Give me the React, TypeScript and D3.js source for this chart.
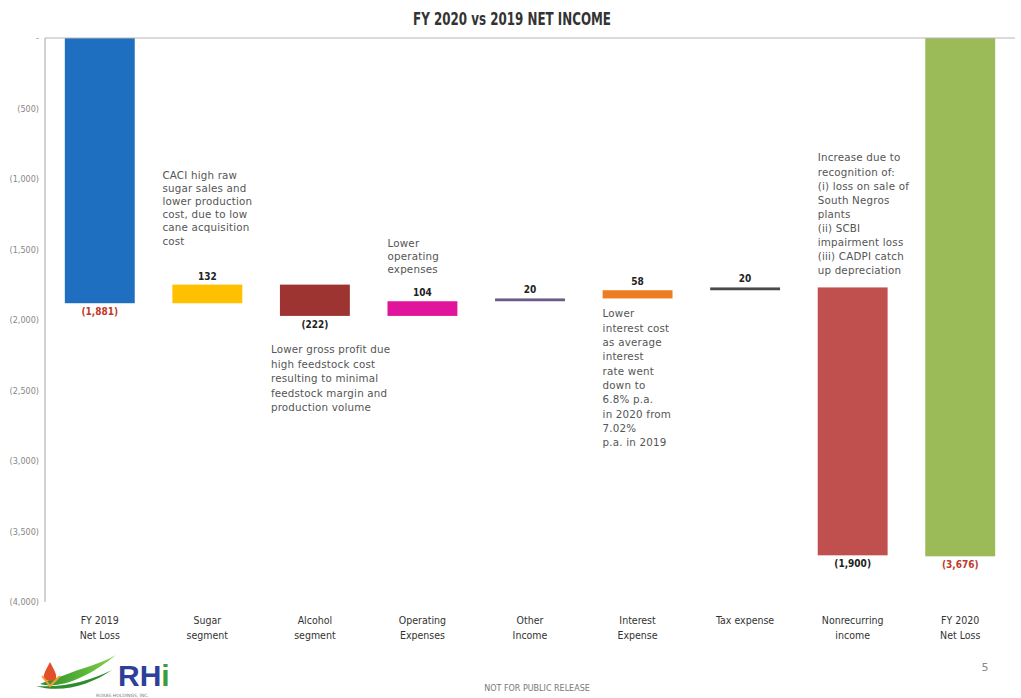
import React from "react";
import * as d3 from "d3";

// Net income bridge, FY 2019 -> FY 2020 (PHP millions)
const categories = [
  "FY 2019 Net Loss",
  "Sugar segment",
  "Alcohol segment",
  "Operating Expenses",
  "Other Income",
  "Interest Expense",
  "Tax expense",
  "Nonrecurring income",
  "FY 2020 Net Loss",
];
const categoryLines = [
  ["FY 2019", "Net Loss"],
  ["Sugar", "segment"],
  ["Alcohol", "segment"],
  ["Operating", "Expenses"],
  ["Other", "Income"],
  ["Interest", "Expense"],
  ["Tax expense"],
  ["Nonrecurring", "income"],
  ["FY 2020", "Net Loss"],
];
const changes = [-1881, 132, -222, 104, 20, 58, 20, -1900, -3676];
const isTotal = [true, false, false, false, false, false, false, false, true];
const valueLabels = ["(1,881)", "132", "(222)", "104", "20", "58", "20", "(1,900)", "(3,676)"];
const barColors = ["#1f6fc1", "#ffc000", "#9e3431", "#e0159b", "#6e5a88", "#ee7d22", "#4a4a4a", "#c0504d", "#9bbb59"];
const labelColors = ["#c0392b", "#222", "#222", "#222", "#222", "#222", "#222", "#222", "#c0392b"];

const yTicks = [0, -500, -1000, -1500, -2000, -2500, -3000, -3500, -4000];
const yTickLabels = ["-", "(500)", "(1,000)", "(1,500)", "(2,000)", "(2,500)", "(3,000)", "(3,500)", "(4,000)"];

// Commentary attached to bars: anchor to the bar top or bottom
const notes = [
  { index: 1, edge: "top", dx: -10, dy: -106, lh: 13.2, lines: ["CACI high raw", "sugar sales and", "lower production", "cost, due to low", "cane acquisition", "cost"] },
  { index: 2, edge: "bottom", dx: -9, dy: 37, lh: 14.6, lines: ["Lower gross profit due", "high feedstock cost", "resulting to minimal", "feedstock margin and", "production volume"] },
  { index: 3, edge: "top", dx: 0, dy: -54, lh: 13, lines: ["Lower", "operating", "expenses"] },
  { index: 5, edge: "bottom", dx: 0, dy: 19, lh: 14.3, lines: ["Lower", "interest cost", "as average", "interest", "rate went", "down to", "6.8% p.a.", "in 2020 from", "7.02%", "p.a. in 2019"] },
  { index: 7, edge: "top", dx: 0, dy: -126, lh: 14.1, lines: ["Increase due to", "recognition of:", "(i) loss on sale of", "South Negros", "plants", "(ii) SCBI", "impairment loss", "(iii) CADPI catch", "up depreciation"] },
];

const W = 1021;
const H = 698;
const condensed = "'Liberation Sans Narrow', 'DejaVu Sans Condensed', 'Arial Narrow', sans-serif";
const body = "'DejaVu Sans', Lato, sans-serif";

export default function App() {
  const x = d3.scaleBand<string>().domain(categories).range([46, 1014]).paddingInner(0.35).paddingOuter(0.175);
  const y = d3.scaleLinear().domain([0, -4000]).range([38, 602]);

  // running totals for the floating bars
  let running = 0;
  const bars = changes.map((c, i) => {
    let start: number, end: number;
    if (isTotal[i]) {
      start = 0;
      end = c;
      running = c;
    } else {
      start = running;
      end = running + c;
      running = end;
    }
    const top = y(Math.max(start, end));
    const bottom = y(Math.min(start, end));
    return { i, start, end, top, bottom, x0: x(categories[i]) as number };
  });
  const bw = x.bandwidth();

  return (
    <svg width={W} height={H} style={{ position: "absolute", left: 0, top: 0, background: "#fff" }}>
      {/* title */}
      <text x={413} y={25} textLength={198} lengthAdjust="spacingAndGlyphs" fontFamily={condensed} fontWeight="bold" fontSize={17} fill="#333">
        FY 2020 vs 2019 NET INCOME
      </text>

      {/* bars */}
      {bars.map((b) => (
        <rect key={b.i} x={b.x0} y={b.top} width={bw} height={Math.max(2, b.bottom - b.top)} fill={barColors[b.i]} />
      ))}

      {/* axes */}
      <line x1={45} x2={1015} y1={y(0)} y2={y(0)} stroke="#b5b5b5" strokeWidth={1.2} />
      <line x1={45} x2={45} y1={y(0)} y2={y(-4000)} stroke="#b5b5b5" strokeWidth={1.2} />
      {yTicks.map((t, i) => (
        <text key={t} x={39} y={y(t) + 3} textAnchor="end" fontFamily={condensed} fontSize={9} fill="#888">
          {yTickLabels[i]}
        </text>
      ))}

      {/* value labels */}
      {bars.map((b) => {
        const below = b.end < b.start || isTotal[b.i];
        const ly = below ? b.bottom + 12 : b.top - 5;
        return (
          <text key={"v" + b.i} x={b.x0 + bw / 2} y={ly} textAnchor="middle" fontFamily={condensed} fontWeight="bold" fontSize={10} fill={labelColors[b.i]}>
            {valueLabels[b.i]}
          </text>
        );
      })}

      {/* commentary */}
      {notes.map((n) => {
        const b = bars[n.index];
        const baseY = (n.edge === "top" ? b.top : b.bottom) + n.dy;
        return (
          <text key={"n" + n.index} fontFamily={body} fontSize={10.3} letterSpacing={0.2} fill="#555">
            {n.lines.map((l, k) => (
              <tspan key={k} x={b.x0 + n.dx} y={baseY + k * n.lh}>
                {l}
              </tspan>
            ))}
          </text>
        );
      })}

      {/* category labels */}
      {categoryLines.map((lines, i) => (
        <text key={"c" + i} textAnchor="middle" fontFamily={condensed} fontSize={10.5} fill="#333">
          {lines.map((l, k) => (
            <tspan key={k} x={(x(categories[i]) as number) + bw / 2} y={624 + k * 15}>
              {l}
            </tspan>
          ))}
        </text>
      ))}

      {/* footer */}
      <g>
        <defs>
          <linearGradient id="leaf" x1="0" x2="1" y1="0" y2="0">
            <stop offset="0" stopColor="#2e8b2e" />
            <stop offset="0.6" stopColor="#5cb83a" />
            <stop offset="1" stopColor="#8fd14f" />
          </linearGradient>
        </defs>
        <path d="M40,684 C60,690 90,676 116,655 C100,664 82,668 62,676 C54,679 46,681 40,684 Z" fill="url(#leaf)" />
        <path d="M36,686 C62,694 92,684 112,670 C92,680 66,688 36,686 Z" fill="#2e8b2e" />
        <path d="M50,662 C46,670 43,674 44,678 C45,682 55,682 56,678 C57,674 54,670 50,662 Z" fill="#e2502a" />
        <path d="M42,676 L50,686 L60,676" fill="none" stroke="#f0a030" strokeWidth={2} />
        <text x={118} y={686} fontFamily="'Liberation Sans', Arial, sans-serif" fontWeight="bold" fontSize={30} fill="#2e3f99">
          RH
          <tspan fill="#3a9d3a">i</tspan>
        </text>
        <text x={96} y={697} fontFamily={body} fontSize={4.5} fill="#777">
          ROXAS HOLDINGS, INC.
        </text>
        <text x={537} y={691} textAnchor="middle" fontFamily={body} fontSize={8} fill="#777">
          NOT FOR PUBLIC RELEASE
        </text>
        <text x={985} y={671} textAnchor="middle" fontFamily={body} fontSize={11} fill="#888">
          5
        </text>
      </g>
    </svg>
  );
}
